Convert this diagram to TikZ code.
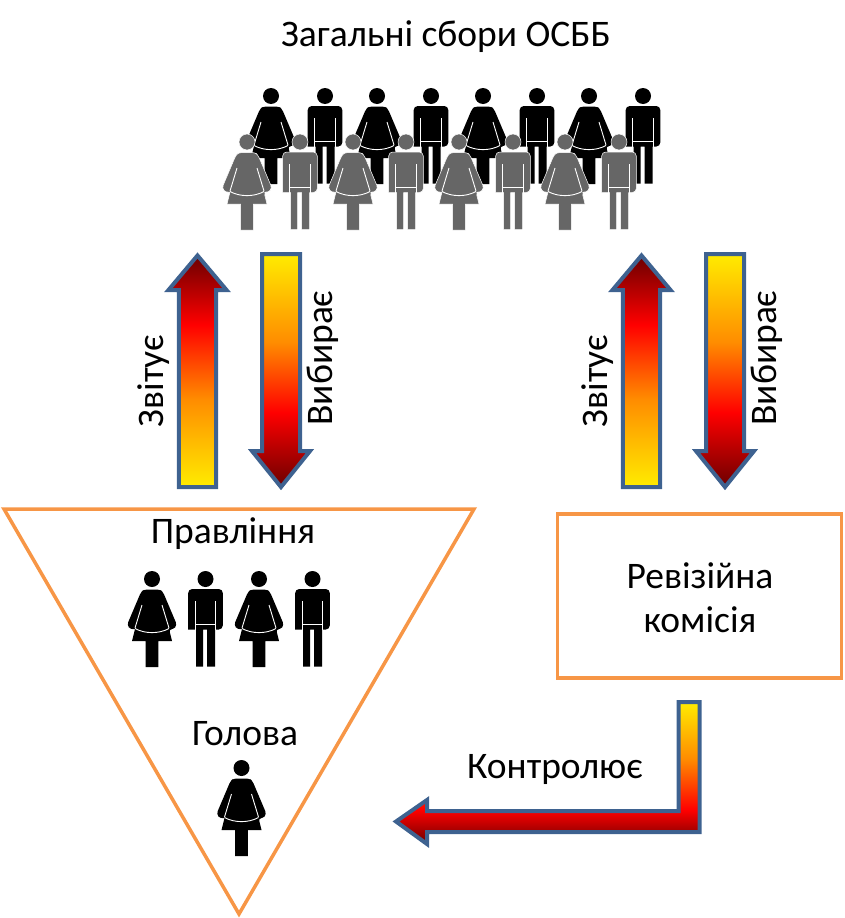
\documentclass[tikz,border=0pt]{standalone}
\usepackage{fontspec}
\setmainfont{Carlito}

% Colours
\definecolor{firedark}{HTML}{6B0000}
\definecolor{firered}{HTML}{FF0000}
\definecolor{fireorange}{HTML}{FF8C00}
\definecolor{fireyellow}{HTML}{FFEC00}
\definecolor{arrowblue}{HTML}{3E6290}
\definecolor{frameorange}{HTML}{F79646}
\definecolor{figuregray}{HTML}{666666}

% Gradients of the block arrows
\pgfdeclareverticalshading{fireup}{100bp}{color(0bp)=(fireyellow); color(25bp)=(fireyellow); color(44bp)=(fireorange); color(60bp)=(firered); color(75bp)=(firedark); color(100bp)=(firedark)}
\pgfdeclareverticalshading{firedown}{100bp}{color(0bp)=(firedark); color(25bp)=(firedark); color(41bp)=(firered); color(56bp)=(fireorange); color(75bp)=(fireyellow); color(100bp)=(fireyellow)}
\pgfdeclareverticalshading{firebent}{100bp}{color(0bp)=(firedark); color(25bp)=(firedark); color(37bp)=(firered); color(55bp)=(fireorange); color(75bp)=(fireyellow); color(100bp)=(fireyellow)}

\begin{document}
\begin{tikzpicture}[
    % Pixel coordinates of the page, y runs downwards
    x=1pt, y=-1pt,
    line join=miter,
    label text/.style={font=\fontsize{37.5}{44}\selectfont, inner sep=0pt, align=center},
    block arrow/.style={draw=arrowblue, line width=4pt},
    frame line/.style={draw=frameorange, line width=3.5pt},
    slit/.style={draw=white, line width=0.9pt},
    figure black/.style={fill=black},
    figure gray/.style={fill=figuregray, draw=white, line width=0.5pt},
    % Figures, origin at the centre of the head
    woman/.pic={
        \path[pic actions] (0,0) circle (8);
        \path[pic actions] [rounded corners=3pt] (-8,10.5) -- (8,10.5) -- (11,13) -- (25,46)
            -- (21.5,50.5) -- (17,50) [sharp corners] -- (20,62) -- (6.3,62) -- (6.3,88) -- (-6.3,88)
            -- (-6.3,62) -- (-20,62) -- (-17,50) [rounded corners=3pt] -- (-21.5,50.5) -- (-25,46) -- (-11,13) -- cycle;
        \draw[slit] (-10,26) -- (-17,49);
        \draw[slit] (10,26) -- (17,49);
        \draw[slit] (-17,49.5) .. controls (-7,55) and (7,55) .. (17,49.5);
    },
    man/.pic={
        \path[pic actions] (0,0) circle (8);
        \path[pic actions] [rounded corners=4pt] (-17.3,50.5) -- (-17.3,10) -- (17.3,10) -- (17.3,50.5)
            [sharp corners] -- (9.5,50.5) -- (9.5,87.5) -- (1.7,87.5) -- (1.7,50.6) -- (-2.3,50.6)
            -- (-2.3,87.5) -- (-9.5,87.5) -- (-9.5,50.5) -- cycle;
        \draw[slit] (-10.3,22) -- (-10.3,51) (10.3,22) -- (10.3,51);
        \draw[slit] (-10.3,45) -- (10.3,45);
    },
    % Block arrows, origin on the axis at the top of the page
    arrow up/.pic={
        \shadedraw[block arrow, shading=fireup] (0,255.5) -- (29,290) -- (18.7,290) -- (18.7,487)
            -- (-18.7,487) -- (-18.7,290) -- (-29,290) -- cycle;
    },
    arrow down/.pic={
        \shadedraw[block arrow, shading=firedown] (-19,254) -- (19,254) -- (19,451) -- (29,451)
            -- (0,487) -- (-29,451) -- (-19,451) -- cycle;
    }
]

% ---------------------------------------------------------
% 1. PAGE
% ---------------------------------------------------------
\path [use as bounding box] (0,0) rectangle (844,918);

\node[label text] (title) at (446,37) {Загальні сбори ОСББ};

% ---------------------------------------------------------
% 2. GENERAL MEETING
% ---------------------------------------------------------
% Back row
\foreach \xa/\xb in {271/325, 377/431, 483/537, 589/643} {
    \pic[figure black] at (\xa,96) {woman};
    \pic[figure black] at (\xb,96) {man};
}
% Front row
\foreach \xa/\xb in {247/300, 353/406, 459/513, 565/619} {
    \pic[figure gray] at (\xa,142) {woman};
    \pic[figure gray] at (\xb,142) {man};
}

% ---------------------------------------------------------
% 3. VERTICAL ARROWS
% ---------------------------------------------------------
\pic at (197.5,0) {arrow up};
\pic at (281,0) {arrow down};
\pic at (641.5,0) {arrow up};
\pic at (725,0) {arrow down};

\node[label text, rotate=90] (reportleft) at (153.5,381) {Звітує};
\node[label text, rotate=90] (electleft) at (322.5,358) {Вибирає};
\node[label text, rotate=90] (reportright) at (597.5,381) {Звітує};
\node[label text, rotate=90] (electright) at (766.5,358) {Вибирає};

% ---------------------------------------------------------
% 4. BOARD
% ---------------------------------------------------------
\draw[frame line] (4,509) -- (474,509) -- (239,914) -- cycle;

\node[label text] (board) at (233,534) {Правління};
\foreach \xa/\xb in {152/205.5, 259/312.5} {
    \pic[figure black] at (\xa,579) {woman};
    \pic[figure black] at (\xb,579) {man};
}

\node[label text] (head) at (245,734) {Голова};
\pic[figure black] at (241.5,768) {woman};

% ---------------------------------------------------------
% 5. AUDIT COMMISSION
% ---------------------------------------------------------
\node[frame line, draw, minimum width=284pt, minimum height=164pt, label text] (audit)
    at (699.5,596) {};
\node[label text] (audittext) at (700,597.5) {Ревізійна\\комісія};

% Bent arrow to the board
\shadedraw[block arrow, shading=firebent] (678.7,702) -- (699.7,702) -- (699.7,832) -- (427,832)
    -- (427,844) -- (396,821.5) -- (427,800) -- (427,811) -- (678.7,811) -- cycle;

\node[label text] (control) at (555,769) {Контролює};

\end{tikzpicture}
\end{document}
